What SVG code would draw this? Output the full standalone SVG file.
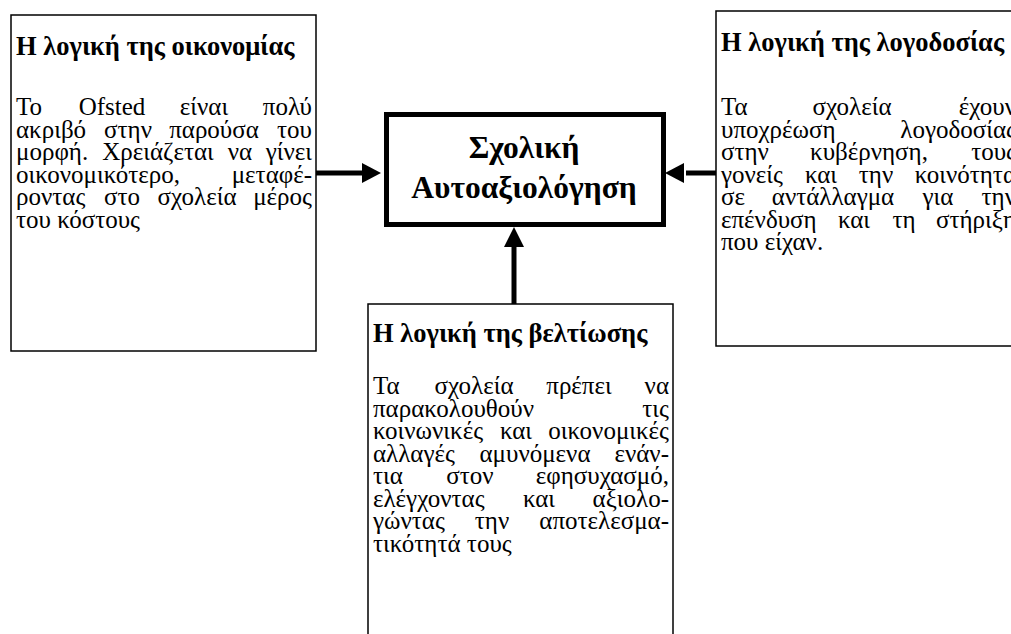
<svg xmlns="http://www.w3.org/2000/svg" width="1011" height="634" viewBox="0 0 1011 634">
<style>
.box{fill:#fff;stroke:#000;stroke-width:1.5}
.main{fill:#fff;stroke:#000;stroke-width:5}
.t{font-family:"Liberation Serif","Times New Roman",serif;font-size:25px;fill:#000}
.h{font-family:"Liberation Serif","Times New Roman",serif;font-size:26.5px;font-weight:bold;fill:#000}
.c{font-family:"Liberation Serif","Times New Roman",serif;font-size:31.5px;font-weight:bold;fill:#000;text-anchor:middle}
.m{text-anchor:middle}
.e{text-anchor:end}
.ln{stroke:#000;stroke-width:5;fill:none}
</style>
<rect width="1011" height="634" fill="#fff"/>
<g id="economy">
<rect class="box" x="11" y="15" width="305" height="336"/>
<text class="h" x="16" y="55">Η λογική της οικονομίας</text>
<text class="t" y="115"><tspan x="16">Το</tspan><tspan class="m" x="112">Ofsted</tspan><tspan class="m" x="204">είναι</tspan><tspan class="e" x="312">πολύ</tspan></text>
<text class="t" y="137.5"><tspan x="16">ακριβό</tspan><tspan class="m" x="128">στην</tspan><tspan class="m" x="214">παρούσα</tspan><tspan class="e" x="312">του</tspan></text>
<text class="t" y="160"><tspan x="16">μορφή.</tspan><tspan class="m" x="158">Χρειάζεται</tspan><tspan class="m" x="240">να</tspan><tspan class="e" x="312">γίνει</tspan></text>
<text class="t" y="182.5"><tspan x="16">οικονομικότερο,</tspan><tspan class="e" x="312">μεταφέ-</tspan></text>
<text class="t" y="205"><tspan x="16">ροντας</tspan><tspan class="m" x="122">στο</tspan><tspan class="m" x="197">σχολεία</tspan><tspan class="e" x="312">μέρος</tspan></text>
<text class="t" x="16" y="227.5">του κόστους</text>
</g>
<g id="accountability">
<rect class="box" x="716" y="11" width="305" height="335"/>
<text class="h" x="721" y="51">Η λογική της λογοδοσίας</text>
<text class="t" y="115"><tspan x="721">Τα</tspan><tspan class="m" x="852">σχολεία</tspan><tspan class="e" x="1016">έχουν</tspan></text>
<text class="t" y="137.5"><tspan x="721">υποχρέωση</tspan><tspan class="e" x="1016">λογοδοσίας</tspan></text>
<text class="t" y="160"><tspan x="721">στην</tspan><tspan class="m" x="869">κυβέρνηση,</tspan><tspan class="e" x="1016">τους</tspan></text>
<text class="t" y="182.5"><tspan x="721">γονείς</tspan><tspan class="m" x="821">και</tspan><tspan class="m" x="876">την</tspan><tspan class="e" x="1016">κοινότητα</tspan></text>
<text class="t" y="205"><tspan x="721">σε</tspan><tspan class="m" x="833">αντάλλαγμα</tspan><tspan class="m" x="938">για</tspan><tspan class="e" x="1016">την</tspan></text>
<text class="t" y="227.5"><tspan x="721">επένδυση</tspan><tspan class="m" x="854">και</tspan><tspan class="m" x="904">τη</tspan><tspan class="e" x="1016">στήριξη</tspan></text>
<text class="t" x="721" y="250">που είχαν.</text>
</g>
<g id="improvement">
<rect class="box" x="368" y="304" width="305" height="340"/>
<text class="h" x="373" y="342">Η λογική της βελτίωσης</text>
<text class="t" y="394"><tspan x="373">Τα</tspan><tspan class="m" x="474">σχολεία</tspan><tspan class="m" x="579">πρέπει</tspan><tspan class="e" x="669">να</tspan></text>
<text class="t" y="416.5"><tspan x="373">παρακολουθούν</tspan><tspan class="e" x="669">τις</tspan></text>
<text class="t" y="439"><tspan x="373">κοινωνικές</tspan><tspan class="m" x="516">και</tspan><tspan class="e" x="669">οικονομικές</tspan></text>
<text class="t" y="461.5"><tspan x="373">αλλαγές</tspan><tspan class="m" x="535">αμυνόμενα</tspan><tspan class="e" x="669">ενάν-</tspan></text>
<text class="t" y="484"><tspan x="373">τια</tspan><tspan class="m" x="470">στον</tspan><tspan class="e" x="669">εφησυχασμό,</tspan></text>
<text class="t" y="506.5"><tspan x="373">ελέγχοντας</tspan><tspan class="m" x="539">και</tspan><tspan class="e" x="669">αξιολο-</tspan></text>
<text class="t" y="529"><tspan x="373">γώντας</tspan><tspan class="m" x="492">την</tspan><tspan class="e" x="669">αποτελεσμα-</tspan></text>
<text class="t" x="373" y="551.5">τικότητά τους</text>
</g>
<g id="self-evaluation">
<rect class="main" x="386.5" y="114.5" width="277" height="110"/>
<text class="c" x="524" y="158">Σχολική</text>
<text class="c" x="524" y="198">Αυτοαξιολόγηση</text>
</g>
<g id="connectors">
<line class="ln" x1="316" y1="173" x2="364" y2="173"/>
<polygon points="381,173 362,163 362,183"/>
<line class="ln" x1="716" y1="173" x2="686" y2="173"/>
<polygon points="665,173 684,163 684,183"/>
<line class="ln" x1="514" y1="304" x2="514" y2="246"/>
<polygon points="514,227 504,247 524,247"/>
</g>
</svg>
